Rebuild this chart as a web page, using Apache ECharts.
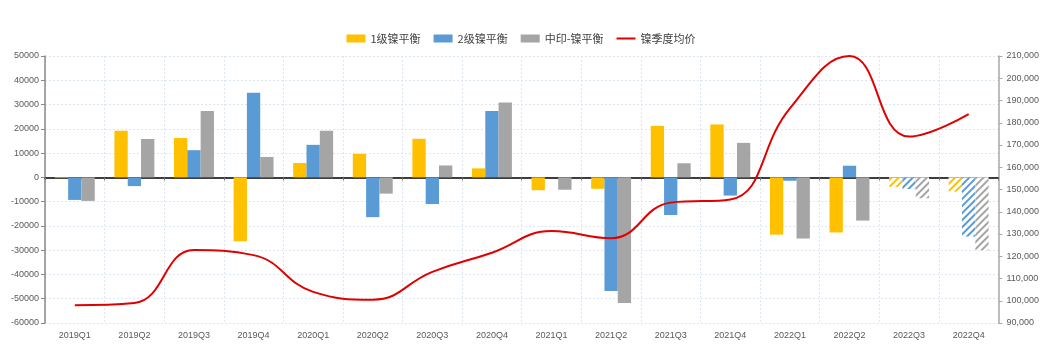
<!DOCTYPE html>
<html>
<head>
<meta charset="utf-8">
<script src="https://cdn.jsdelivr.net/npm/echarts@6/dist/echarts.min.js"></script>
<style>html,body{margin:0;padding:0;background:#fff;}#c{width:1042px;height:350px;}</style>
</head>
<body>
<div id="c"></div>
<script>
const categories = ['2019Q1','2019Q2','2019Q3','2019Q4','2020Q1','2020Q2','2020Q3','2020Q4','2021Q1','2021Q2','2021Q3','2021Q4','2022Q1','2022Q2','2022Q3','2022Q4'];
const level1Balance = [-300, 19200, 16200, -26300, 5900, 9700, 15900, 3700, -5300, -4700, 21200, 21800, -23600, -22700, -3900, -5900];
const level2Balance = [-9300, -3600, 11200, 34900, 13400, -16400, -11000, 27300, 0, -46800, -15500, -7500, -1400, 4800, -4800, -24400];
const chinaIndoBalance = [-9700, 15800, 27300, 8400, 19200, -6700, 4900, 30800, -5100, -51800, 5800, 14200, -25200, -17800, -8600, -30000];
const nickelPrice = [98000, 99000, 122800, 120500, 104000, 100500, 113000, 121600, 131300, 128100, 144100, 145500, 186500, 210000, 173800, 183900];
const forecastQuarters = ['2022Q3', '2022Q4'];
const seriesNames = ['1级镍平衡', '2级镍平衡', '中印-镍平衡', '镍季度均价'];

const colors = ['#FFC000', '#5B9BD5', '#A5A5A5'];
const lineColor = '#E00000';
const labelColor = '#595959';
const gridLine = {show: true, lineStyle: {color: '#DCE6F0', type: [2, 2], width: 1}};
const numFont = 'Liberation Sans, DejaVu Sans, sans-serif';

function barData(values, color) {
  return values.map((v, i) => {
    if (forecastQuarters.indexOf(categories[i]) >= 0) {
      return {
        value: v,
        itemStyle: {
          color: '#ffffff',
          decal: {
            color: color,
            dashArrayX: [1, 0],
            dashArrayY: [2, 3],
            rotation: -Math.PI / 4,
            symbol: 'rect',
            symbolSize: 1
          }
        }
      };
    }
    return v;
  });
}

const chart = echarts.init(document.getElementById('c'), null, {renderer: 'canvas'});
chart.setOption({
  animation: false,
  color: colors.concat([lineColor]),
  legend: {
    top: 28,
    left: 'center',
    itemWidth: 19,
    itemHeight: 8,
    itemGap: 13,
    textStyle: {fontFamily: 'Noto Sans CJK SC', fontSize: 11, color: '#404040'},
    data: [
      {name: seriesNames[0], icon: 'rect'},
      {name: seriesNames[1], icon: 'rect'},
      {name: seriesNames[2], icon: 'rect'},
      {name: seriesNames[3], icon: 'path://M0,0 L0,0 M0,3 L19,3 L19,5 L0,5 Z M19,8 L19,8'}
    ]
  },
  grid: {left: 45, right: 38, top: 56, bottom: 27, containLabel: false},
  xAxis: [
    {
      type: 'category',
      data: categories,
      position: 'bottom',
      axisLine: {show: false},
      axisTick: {show: false},
      axisLabel: {color: labelColor, fontSize: 9, fontFamily: numFont, margin: 8},
      splitLine: gridLine
    },
    {
      type: 'category',
      data: categories,
      position: 'bottom',
      axisLine: {show: true, onZero: true, onZeroAxisIndex: 0, lineStyle: {color: '#000', width: 1.5}},
      axisTick: {show: true, length: 3, lineStyle: {color: '#777'}},
      axisLabel: {show: false},
      splitLine: {show: false}
    }
  ],
  yAxis: [
    {
      type: 'value',
      min: -60000,
      max: 50000,
      interval: 10000,
      axisLine: {show: true, lineStyle: {color: '#888', width: 1.5}},
      axisTick: {show: true, length: 4, lineStyle: {color: '#888'}},
      axisLabel: {color: labelColor, fontSize: 9, fontFamily: numFont, margin: 6,
        formatter: v => String(v)},
      splitLine: gridLine
    },
    {
      type: 'value',
      min: 90000,
      max: 210000,
      interval: 10000,
      position: 'right',
      axisLine: {show: true, lineStyle: {color: '#aaa', width: 1.5}},
      axisTick: {show: true, length: 4, lineStyle: {color: '#aaa'}},
      axisLabel: {color: labelColor, fontSize: 9, fontFamily: numFont, margin: 8,
        formatter: v => v.toLocaleString('en-US')},
      splitLine: {show: false}
    }
  ],
  series: [
    {name: seriesNames[0], type: 'bar', xAxisIndex: 0, yAxisIndex: 0, data: barData(level1Balance, colors[0]),
      barGap: '0%', barCategoryGap: '33%', itemStyle: {color: colors[0]}},
    {name: seriesNames[1], type: 'bar', xAxisIndex: 0, yAxisIndex: 0, data: barData(level2Balance, colors[1]),
      barGap: '0%', barCategoryGap: '33%', itemStyle: {color: colors[1]}},
    {name: seriesNames[2], type: 'bar', xAxisIndex: 0, yAxisIndex: 0, data: barData(chinaIndoBalance, colors[2]),
      barGap: '0%', barCategoryGap: '33%', itemStyle: {color: colors[2]}},
    {name: seriesNames[3], type: 'line', xAxisIndex: 0, yAxisIndex: 1, data: nickelPrice,
      smooth: 0.45, symbol: 'none', clip: false, z: 5,
      lineStyle: {color: lineColor, width: 2}, itemStyle: {color: lineColor}}
  ]
});
</script>
</body>
</html>
